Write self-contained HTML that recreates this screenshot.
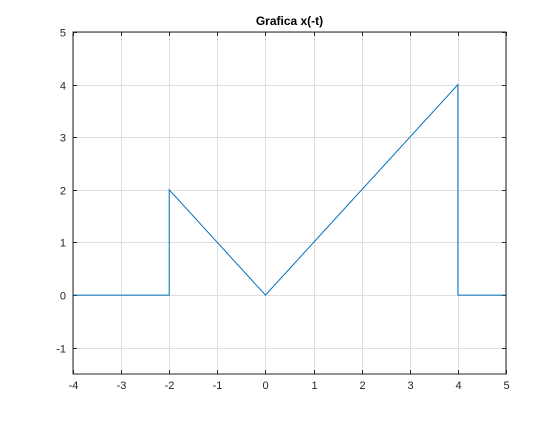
<!DOCTYPE html>
<html><head><meta charset="utf-8"><style>
body{margin:0;background:#fff;width:560px;height:420px;overflow:hidden}
svg text{font-family:"Liberation Sans",Arial,sans-serif;font-size:11px;fill:#262626}
</style></head><body>
<svg id="chart" width="560" height="420" xmlns="http://www.w3.org/2000/svg">
<rect width="560" height="420" fill="#fff"/>
<g id="grid"></g>
<g id="ticks"></g>
<polyline id="series" fill="none" stroke="#0072BD" stroke-width="1"/>
<rect x="73" y="32" width="433" height="342" fill="none" stroke="#262626" stroke-width="1"/>
<text x="289.5" y="25" text-anchor="middle" style="font-weight:bold;font-size:12px;fill:#000">Grafica x(-t)</text>
</svg>
<script>
const xTicks=[-4,-3,-2,-1,0,1,2,3,4,5];
const yTicks=[-1,0,1,2,3,4,5];
const tValues=[-4,-2,-2,0,4,4,5];
const xValues=[0,0,2,0,4,0,0];
const L=73,R=506,T=32,B=374,xMin=-4,xMax=5,yMin=-1.5,yMax=5;
const sx=v=>L+(v-xMin)/(xMax-xMin)*(R-L);
const sy=v=>B-(v-yMin)/(yMax-yMin)*(B-T);
const NS="http://www.w3.org/2000/svg";
const grid=document.getElementById('grid'),ticks=document.getElementById('ticks');
function line(p,x1,y1,x2,y2,c){const l=document.createElementNS(NS,'line');l.setAttribute('x1',x1);l.setAttribute('y1',y1);l.setAttribute('x2',x2);l.setAttribute('y2',y2);l.setAttribute('stroke',c);p.appendChild(l);return l;}
function text(x,y,s,a){const t=document.createElementNS(NS,'text');t.setAttribute('x',x);t.setAttribute('y',y);t.setAttribute('text-anchor',a);t.textContent=s;ticks.appendChild(t);return t;}
xTicks.forEach(v=>{const x=Math.round(sx(v))+0.5;
const g=line(grid,x,T,x,B,'#dfdfdf');


line(ticks,x,B,x,B-4,'#262626');line(ticks,x,T,x,T+4,'#262626');
const t=text(x,B+15,String(v),'middle');

});
yTicks.forEach(v=>{const y=Math.round(sy(v))+0.5;
const g=line(grid,L,y,R,y,'#dfdfdf');


line(ticks,L,y,L+4,y,'#262626');line(ticks,R,y,R-4,y,'#262626');
const t=text(L-7,y+4,String(v),'end');

});
document.getElementById('series').setAttribute('points',tValues.map((t,i)=>sx(t)+','+sy(xValues[i])).join(' '));
</script>
</body></html>
